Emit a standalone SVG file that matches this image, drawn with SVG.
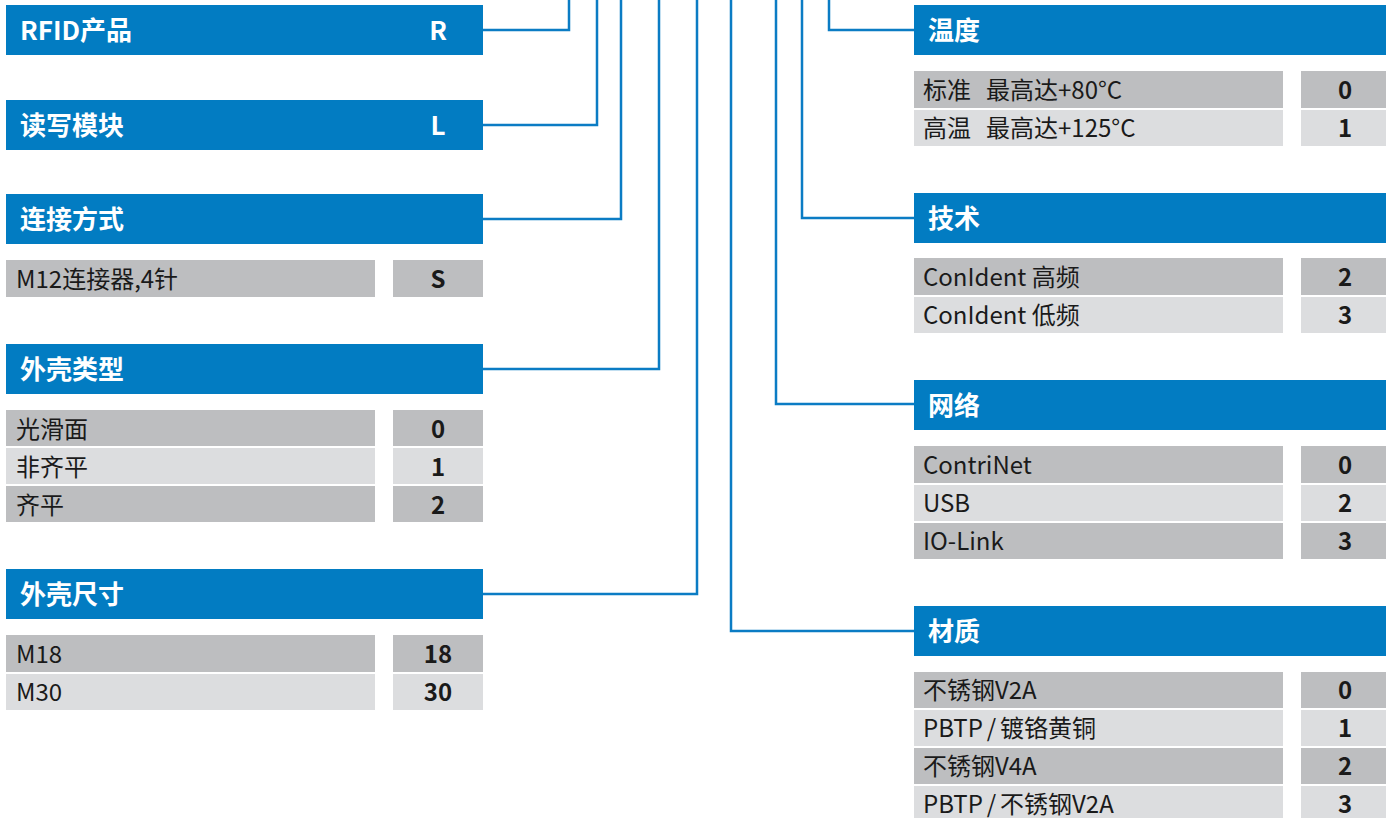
<svg xmlns="http://www.w3.org/2000/svg" width="1386" height="818" viewBox="0 0 1386 818">
<style>
.hd{fill:#027cc2}
.d{fill:#bdbec0}
.l{fill:#dcdddf}
.ht{font-family:"Noto Sans CJK SC","Noto Sans",sans-serif;font-weight:700;font-size:26px;fill:#fff}
.rt{font-family:"Noto Sans CJK SC","Noto Sans",sans-serif;font-size:24px;fill:#1a1a1a}
.vt{font-family:"Noto Sans CJK SC","Noto Sans",sans-serif;font-weight:700;font-size:24px;fill:#1a1a1a;text-anchor:middle}
.sl{word-spacing:-1.5px}
.c{fill:none;stroke:#0b7cc4;stroke-width:2.5}
</style>
<rect width="1386" height="818" fill="#fff"/>
<g id="connectors">
<path class="c" d="M569,0 V30 H483"/>
<path class="c" d="M597,0 V125 H483"/>
<path class="c" d="M621,0 V219 H483"/>
<path class="c" d="M659,0 V369 H483"/>
<path class="c" d="M697,0 V594 H483"/>
<path class="c" d="M731,0 V631 H914"/>
<path class="c" d="M776,0 V404 H914"/>
<path class="c" d="M802,0 V218 H914"/>
<path class="c" d="M829,0 V30 H914"/>
</g>
<g id="rfid">
<rect class="hd" x="6" y="5" width="477" height="50"/>
<text class="ht" x="20" y="40">RFID产品</text>
<text class="ht" x="438" y="40" text-anchor="middle">R</text>
</g>
<g id="module">
<rect class="hd" x="6" y="100" width="477" height="50"/>
<text class="ht" x="20" y="135">读写模块</text>
<text class="ht" x="438" y="135" text-anchor="middle">L</text>
</g>
<g id="connection">
<rect class="hd" x="6" y="194" width="477" height="50"/>
<text class="ht" x="20" y="229">连接方式</text>
<rect class="d" x="6" y="260" width="369" height="37"/>
<rect class="d" x="393" y="260" width="90" height="37"/>
<text class="rt" x="16" y="288">M12连接器,4针</text>
<text class="vt" x="438" y="288">S</text>
</g>
<g id="housing-type">
<rect class="hd" x="6" y="344" width="477" height="50"/>
<text class="ht" x="20" y="379">外壳类型</text>
<rect class="d" x="6" y="410" width="369" height="36"/>
<rect class="d" x="393" y="410" width="90" height="36"/>
<text class="rt" x="16" y="438">光滑面</text>
<text class="vt" x="438" y="438">0</text>
<rect class="l" x="6" y="448" width="369" height="36"/>
<rect class="l" x="393" y="448" width="90" height="36"/>
<text class="rt" x="16" y="476">非齐平</text>
<text class="vt" x="438" y="476">1</text>
<rect class="d" x="6" y="486" width="369" height="36"/>
<rect class="d" x="393" y="486" width="90" height="36"/>
<text class="rt" x="16" y="514">齐平</text>
<text class="vt" x="438" y="514">2</text>
</g>
<g id="housing-size">
<rect class="hd" x="6" y="569" width="477" height="50"/>
<text class="ht" x="20" y="604">外壳尺寸</text>
<rect class="d" x="6" y="635" width="369" height="37"/>
<rect class="d" x="393" y="635" width="90" height="37"/>
<text class="rt" x="16" y="663">M18</text>
<text class="vt" x="438" y="663">18</text>
<rect class="l" x="6" y="674" width="369" height="36"/>
<rect class="l" x="393" y="674" width="90" height="36"/>
<text class="rt" x="16" y="701">M30</text>
<text class="vt" x="438" y="701">30</text>
</g>
<g id="temperature">
<rect class="hd" x="914" y="5" width="472" height="50"/>
<text class="ht" x="928" y="40">温度</text>
<rect class="d" x="914" y="71" width="369" height="37"/>
<rect class="d" x="1301" y="71" width="85" height="37"/>
<text class="rt" x="923" y="99">标准</text>
<text class="rt" x="986" y="99">最高达+80°C</text>
<text class="vt" x="1345" y="99">0</text>
<rect class="l" x="914" y="110" width="369" height="36"/>
<rect class="l" x="1301" y="110" width="85" height="36"/>
<text class="rt" x="923" y="137">高温</text>
<text class="rt" x="986" y="137">最高达+125°C</text>
<text class="vt" x="1345" y="137">1</text>
</g>
<g id="technology">
<rect class="hd" x="914" y="193" width="472" height="50"/>
<text class="ht" x="928" y="228">技术</text>
<rect class="d" x="914" y="258" width="369" height="37"/>
<rect class="d" x="1301" y="258" width="85" height="37"/>
<text class="rt" x="923" y="286">ConIdent 高频</text>
<text class="vt" x="1345" y="286">2</text>
<rect class="l" x="914" y="297" width="369" height="36"/>
<rect class="l" x="1301" y="297" width="85" height="36"/>
<text class="rt" x="923" y="324">ConIdent 低频</text>
<text class="vt" x="1345" y="324">3</text>
</g>
<g id="network">
<rect class="hd" x="914" y="380" width="472" height="50"/>
<text class="ht" x="928" y="415">网络</text>
<rect class="d" x="914" y="446" width="369" height="37"/>
<rect class="d" x="1301" y="446" width="85" height="37"/>
<text class="rt" x="923" y="474">ContriNet</text>
<text class="vt" x="1345" y="474">0</text>
<rect class="l" x="914" y="485" width="369" height="36"/>
<rect class="l" x="1301" y="485" width="85" height="36"/>
<text class="rt" x="923" y="512">USB</text>
<text class="vt" x="1345" y="512">2</text>
<rect class="d" x="914" y="523" width="369" height="36"/>
<rect class="d" x="1301" y="523" width="85" height="36"/>
<text class="rt" x="923" y="550">IO-Link</text>
<text class="vt" x="1345" y="550">3</text>
</g>
<g id="material">
<rect class="hd" x="914" y="606" width="472" height="50"/>
<text class="ht" x="928" y="641">材质</text>
<rect class="d" x="914" y="672" width="369" height="36"/>
<rect class="d" x="1301" y="672" width="85" height="36"/>
<text class="rt" x="923" y="699">不锈钢V2A</text>
<text class="vt" x="1345" y="699">0</text>
<rect class="l" x="914" y="710" width="369" height="36"/>
<rect class="l" x="1301" y="710" width="85" height="36"/>
<text class="rt sl" x="923" y="737">PBTP / 镀铬黄铜</text>
<text class="vt" x="1345" y="737">1</text>
<rect class="d" x="914" y="748" width="369" height="36"/>
<rect class="d" x="1301" y="748" width="85" height="36"/>
<text class="rt" x="923" y="775">不锈钢V4A</text>
<text class="vt" x="1345" y="775">2</text>
<rect class="l" x="914" y="786" width="369" height="36"/>
<rect class="l" x="1301" y="786" width="85" height="36"/>
<text class="rt sl" x="923" y="813">PBTP / 不锈钢V2A</text>
<text class="vt" x="1345" y="813">3</text>
</g>
</svg>
